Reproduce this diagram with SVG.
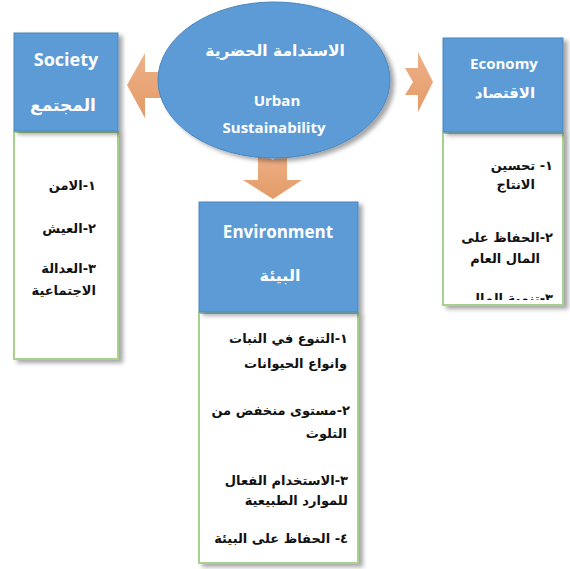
<svg xmlns="http://www.w3.org/2000/svg" width="570" height="569" viewBox="0 0 570 569">
  <style>
    .hdr { fill: #5B9BD5; stroke: #4A86BE; stroke-width: 1; }
    .body { fill: #FFFFFF; stroke: #A9D18E; stroke-width: 2; }
    .arrow { fill: url(#orange); }
    .en { font-family: "Open Sans", "Liberation Sans", sans-serif; font-weight: bold; fill: #FFFFFF; text-anchor: middle; }
    .arw { font-family: "DejaVu Sans", "Noto Sans", sans-serif; font-weight: bold; fill: #FFFFFF; text-anchor: middle; direction: rtl; }
    .item { font-family: "DejaVu Sans", "Liberation Sans", sans-serif; font-weight: bold; fill: #111111; font-size: 13px; direction: rtl; text-anchor: start; }
  </style>
  <defs>
    <linearGradient id="orange" x1="0" y1="0" x2="0" y2="1">
      <stop offset="0" stop-color="#EFB288"/>
      <stop offset="1" stop-color="#E39A68"/>
    </linearGradient>
    <filter id="shadow" x="-10%" y="-10%" width="130%" height="130%">
      <feDropShadow dx="4" dy="3" stdDeviation="2" flood-color="#000000" flood-opacity="0.35"/>
    </filter>
    <clipPath id="econClip">
      <rect x="443" y="134" width="120" height="166"/>
    </clipPath>
  </defs>

  <!-- connectors: notched block arrows leaving the central ellipse -->
  <g id="connectors">
    <polygon class="arrow" points="127,85 145,53 145,72 175,72 166,85 175,98 145,98 145,118"/>
    <polygon class="arrow" points="405,68 418,68 418,52 433,82 418,112 418,95 405,95 413,82"/>
    <polygon class="arrow" points="258,150 273,160 287,150 287,180 302,180 273,199 243,180 258,180"/>
  </g>

  <!-- central node -->
  <g id="urban-sustainability">
    <ellipse cx="274" cy="80" rx="116" ry="78" fill="#5B9BD5" stroke="#4A86BE" stroke-width="1" filter="url(#shadow)"/>
    <text class="arw" x="275" y="56" style="font-size:15.5px">الاستدامة الحضرية</text>
    <text class="en" x="277" y="106" style="font-size:15px">Urban</text>
    <text class="en" x="274" y="133" style="font-size:15px">Sustainability</text>
  </g>

  <!-- society node -->
  <g id="society">
    <rect class="body" x="14" y="132" width="104" height="227" filter="url(#shadow)"/>
    <rect class="hdr" x="14" y="33" width="104" height="98" filter="url(#shadow)"/>
    <text class="en" x="66" y="66" style="font-size:18px">Society</text>
    <text class="arw" x="63" y="111" style="font-size:17px">المجتمع</text>
    <text class="item" x="96" y="190">١-الامن</text>
    <text class="item" x="96" y="233">٢-العيش</text>
    <text class="item" x="96" y="273">٣-العدالة</text>
    <text class="item" x="96" y="295">الاجتماعية</text>
  </g>

  <!-- economy node -->
  <g id="economy">
    <rect class="body" x="443" y="133" width="120" height="172" filter="url(#shadow)"/>
    <rect class="hdr" x="443" y="38" width="120" height="94" filter="url(#shadow)"/>
    <text class="en" x="504" y="69" style="font-size:15px">Economy</text>
    <text class="arw" x="505" y="98" style="font-size:15px">الاقتصاد</text>
    <g clip-path="url(#econClip)">
      <text class="item" x="553" y="170">١-  تحسين</text>
      <text class="item" x="535" y="189">الانتاج</text>
      <text class="item" x="553" y="242">٢-الحفاظ على</text>
      <text class="item" x="540" y="263">المال العام</text>
      <text class="item" x="553" y="303">٣-تنمية المال</text>
    </g>
  </g>

  <!-- environment node -->
  <g id="environment">
    <rect class="body" x="199" y="313" width="159" height="250" filter="url(#shadow)"/>
    <rect class="hdr" x="199" y="202" width="159" height="110" filter="url(#shadow)"/>
    <text class="en" x="278" y="238" style="font-size:17px">Environment</text>
    <text class="arw" x="280" y="281" style="font-size:16px">البيئة</text>
    <text class="item" x="348" y="343">١-التنوع في النبات</text>
    <text class="item" x="347" y="368">وانواع الحيوانات</text>
    <text class="item" x="350" y="415">٢-مستوى منخفض من</text>
    <text class="item" x="347" y="438">التلوث</text>
    <text class="item" x="348" y="485">٣-الاستخدام الفعال</text>
    <text class="item" x="348" y="505">للموارد الطبيعية</text>
    <text class="item" x="348" y="543">٤- الحفاظ على البيئة</text>
  </g>
</svg>
